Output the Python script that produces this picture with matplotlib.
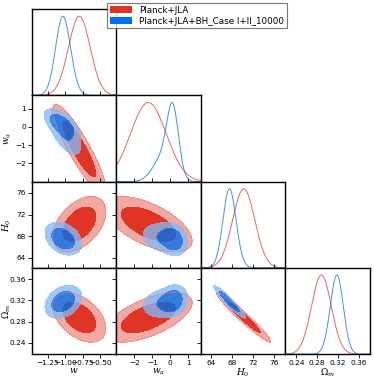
import numpy as np
import matplotlib
matplotlib.use('Agg')
import matplotlib.pyplot as plt
from matplotlib.patches import Patch

plt.rcParams['mathtext.fontset'] = 'dejavuserif'

# parameters of the triangle plot
names = ['w', 'wa', 'H0', 'Om']
labels = [r'$w$', r'$w_a$', r'$H_0$', r'$\Omega_m$']
limits = [(-1.475, -0.27), (-3.0, 1.72), (62.1, 78.1), (0.219, 0.381)]
ticks = [[-1.25, -1.0, -0.75, -0.5], [-2, -1, 0, 1], [64, 68, 72, 76], [0.24, 0.28, 0.32, 0.36]]

red_label = 'Planck+JLA'
red_weights = [1.0]
red_means = [[-0.80, -1.22, 70.2, 0.288]]
red_sigmas = [[0.155, 1.00, 2.10, 0.019]]
red_corr = [[1.00, -0.89, 0.45, -0.45],
            [-0.89, 1.00, -0.60, 0.60],
            [0.45, -0.60, 1.00, -0.97],
            [-0.45, 0.60, -0.97, 1.00]]

# Planck+JLA+BH (skewed in w_a, two pieces)
blue_label = 'Planck+JLA+BH_Case I+II_10000'
blue_weights = [0.6, 0.4]
blue_means = [[-1.05, 0.15, 67.4, 0.319],
              [-1.00, -0.40, 67.7, 0.315]]
blue_sigmas = [[0.10, 0.32, 1.20, 0.012],
               [0.11, 0.55, 1.30, 0.013]]
blue_corr = [[1.00, -0.62, -0.35, 0.35],
             [-0.62, 1.00, -0.20, 0.20],
             [-0.35, -0.20, 1.00, -0.95],
             [0.35, 0.20, -0.95, 1.00]]

red_dark, red_light = '#E03424', '#F2A9A3'
blue_dark, blue_light = '#006FED', '#86B9F4'


def density_1d(x, i, weights, means, sigmas):
    p = np.zeros_like(x)
    for wgt, m, s in zip(weights, means, sigmas):
        p += wgt * np.exp(-0.5 * ((x - m[i]) / s[i])**2) / s[i]
    return p / p.max()


def density_2d(X, Y, i, j, weights, means, sigmas, corr):
    p = np.zeros_like(X)
    r = corr[i][j]
    for wgt, m, s in zip(weights, means, sigmas):
        u = (X - m[i]) / s[i]
        v = (Y - m[j]) / s[j]
        q = (u**2 - 2*r*u*v + v**2) / (1 - r**2)
        p += wgt * np.exp(-0.5*q) / (s[i]*s[j]*np.sqrt(1 - r**2))
    return p


def contour_levels(p):
    flat = np.sort(p.ravel())[::-1]
    cum = np.cumsum(flat)
    cum /= cum[-1]
    return [flat[np.searchsorted(cum, 0.95)], flat[np.searchsorted(cum, 0.68)]]


def grid(i, j):
    lo_i, hi_i = limits[i]
    lo_j, hi_j = limits[j]
    span_i = hi_i - lo_i
    span_j = hi_j - lo_j
    x = np.linspace(lo_i - 1.5*span_i, hi_i + 1.5*span_i, 500)
    y = np.linspace(lo_j - 1.5*span_j, hi_j + 1.5*span_j, 500)
    return np.meshgrid(x, y)


fig, axes = plt.subplots(4, 4, figsize=(3.74, 3.80), dpi=100)
fig.subplots_adjust(left=0.0856, right=0.989, top=0.976, bottom=0.068, wspace=0, hspace=0)

n = len(names)
for row in range(n):
    for col in range(n):
        ax = axes[row, col]
        if col > row:
            ax.axis('off')
            continue
        for sp in ax.spines.values():
            sp.set_linewidth(1.0)
        ax.set_xlim(limits[col])
        ax.set_xticks(ticks[col])
        if row == col:
            x = np.linspace(limits[col][0], limits[col][1], 400)
            ax.plot(x, density_1d(x, col, red_weights, red_means, red_sigmas), color=red_dark, lw=0.7, alpha=0.75)
            ax.plot(x, density_1d(x, col, blue_weights, blue_means, blue_sigmas), color=blue_dark, lw=0.7, alpha=0.75)
            ax.set_ylim(0, 1.09)
            ax.set_yticks([])
            ax.tick_params(axis='x', direction='out', length=3, width=0.6, labelsize=5.3, pad=1.5)
        else:
            X, Y = grid(col, row)
            pr = density_2d(X, Y, col, row, red_weights, red_means, red_sigmas, red_corr)
            lv = contour_levels(pr)
            ax.contourf(X, Y, pr, levels=[lv[0], lv[1], pr.max()*1.01], colors=[red_light, red_dark])
            ax.contour(X, Y, pr, levels=[lv[0]], colors=['#E8807A'], linewidths=0.4)
            pb = density_2d(X, Y, col, row, blue_weights, blue_means, blue_sigmas, blue_corr)
            lv = contour_levels(pb)
            ax.contourf(X, Y, pb, levels=[lv[0], lv[1], pb.max()*1.01], colors=[blue_light, blue_dark], alpha=0.78)
            ax.set_ylim(limits[row])
            ax.set_yticks(ticks[row])
            ax.tick_params(direction='out', length=3, width=0.6, labelsize=5.3, pad=1.5,
                           top=True, right=True)
        if row == n - 1:
            ax.set_xlabel(labels[col], fontsize=6.5)
            ax.xaxis.set_label_coords(0.5, -0.14)
        else:
            ax.tick_params(labelbottom=False)
        if col == 0 and row > 0:
            ax.set_ylabel(labels[row], fontsize=6.5)
            ax.yaxis.set_label_coords(-0.22, 0.5)
        else:
            ax.tick_params(labelleft=False)

handles = [Patch(facecolor=red_dark, edgecolor='none'), Patch(facecolor=blue_dark, edgecolor='none')]
leg = fig.legend(handles, [red_label, blue_label], loc='upper left',
                 bbox_to_anchor=(107/374, 1 - 3/380), fontsize=6.3, fancybox=False,
                 borderaxespad=0, handlelength=2.6, handleheight=0.9, borderpad=0.3,
                 labelspacing=0.25)
leg.get_frame().set_edgecolor('#555555')
leg.get_frame().set_linewidth(0.8)

plt.savefig('out.png', dpi=100)
